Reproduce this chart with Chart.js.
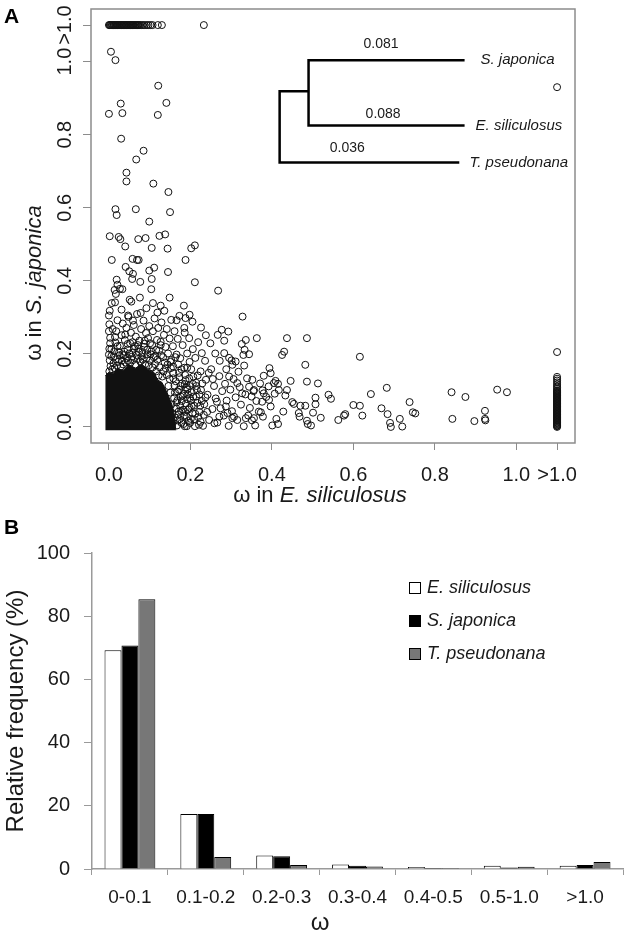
<!DOCTYPE html>
<html>
<head>
<meta charset="utf-8">
<script src="https://cdn.jsdelivr.net/npm/chart.js@4.4.1/dist/chart.umd.min.js"></script>
<style>
  html, body { margin: 0; padding: 0; background: #fff; }
  #wrap { position: relative; width: 630px; height: 936px; overflow: hidden; }
  #chartA { position: absolute; left: 0; top: 0; }
  #chartB { position: absolute; left: 0; top: 505px; }
</style>
</head>
<body>
<div id="wrap">
  <canvas id="chartA" width="630" height="505"></canvas>
  <canvas id="chartB" width="630" height="431"></canvas>
</div>
<script>
// ---------- data: panel A (omega scatter) ----------
const axisTickValues = [0, 0.2, 0.4, 0.6, 0.8, 1.0, 1.1];
const axisTickLabels = ['0.0', '0.2', '0.4', '0.6', '0.8', '1.0', '>1.0'];
const OVER_ONE = 1.1; // where ">1.0" genes are plotted

// genes with omega > 1.0 in S. japonica (top row): omega in E. siliculosus
const topRowX = [0.000, 0.002, 0.003, 0.005, 0.007, 0.009, 0.011, 0.012, 0.014, 0.016,
  0.018, 0.020, 0.021, 0.023, 0.025, 0.027, 0.029, 0.031, 0.032, 0.034,
  0.036, 0.038, 0.040, 0.042, 0.043, 0.045, 0.047, 0.049, 0.051, 0.053,
  0.054, 0.056, 0.058, 0.060, 0.062, 0.064, 0.066, 0.068, 0.070, 0.072,
  0.074, 0.076, 0.080, 0.084, 0.088, 0.093, 0.097, 0.102, 0.107, 0.120, 0.130, 0.233];

// genes with omega > 1.0 in E. siliculosus (right column): omega in S. japonica
const rightColY = [0.000, 0.002, 0.004, 0.006, 0.008, 0.010, 0.012, 0.014, 0.016, 0.018,
  0.020, 0.022, 0.024, 0.026, 0.028, 0.030, 0.032, 0.034, 0.036, 0.038,
  0.040, 0.042, 0.044, 0.046, 0.048, 0.050, 0.052, 0.054, 0.056, 0.058,
  0.060, 0.062, 0.064, 0.066, 0.068, 0.070, 0.072, 0.074, 0.076, 0.078,
  0.080, 0.082, 0.084, 0.086, 0.088, 0.090, 0.092, 0.094, 0.096, 0.098, 0.100,
  0.104, 0.108, 0.112, 0.117, 0.122, 0.127, 0.132, 0.137, 0.205, 0.930];

// saturated core of overlapping circles (upper edge, filled down to the bottom)
const coreEdge = [[-0.009, 0.14], [0.0, 0.15], [0.01, 0.145], [0.02, 0.16], [0.035, 0.155],
  [0.05, 0.17], [0.065, 0.16], [0.08, 0.172], [0.095, 0.158], [0.11, 0.15], [0.12, 0.128],
  [0.13, 0.122], [0.138, 0.105], [0.146, 0.085], [0.155, 0.06], [0.161, 0.03], [0.164, -0.009]];

// [omega E. siliculosus, omega S. japonica]
const genePoints = [
  [0.005,1.027],[0.016,1.004],[0.121,0.934],[0.029,0.885],[0.141,0.887],[0.000,0.857],[0.033,0.859],
  [0.120,0.854],[0.030,0.789],[0.085,0.756],[0.067,0.732],[0.043,0.696],[0.043,0.672],[0.109,0.666],
  [0.146,0.643],[0.016,0.596],[0.019,0.580],[0.066,0.596],[0.150,0.588],[0.099,0.562],[0.002,0.522],
  [0.024,0.520],[0.028,0.514],[0.072,0.514],[0.090,0.517],[0.124,0.523],[0.138,0.527],[0.040,0.494],
  [0.105,0.490],[0.144,0.488],[0.202,0.489],[0.211,0.497],
  [0.007,0.457],[0.058,0.460],[0.069,0.457],[0.073,0.457],[0.188,0.457],[0.041,0.438],[0.050,0.426],
  [0.059,0.419],[0.057,0.405],[0.077,0.397],[0.099,0.428],[0.111,0.436],[0.105,0.405],[0.145,0.424],
  [0.211,0.396],[0.268,0.373],[0.019,0.403],[0.021,0.389],[0.027,0.378],[0.014,0.375],[0.017,0.364],
  [0.007,0.339],[0.015,0.341],[0.033,0.377],[0.051,0.348],[0.055,0.343],[0.076,0.354],[0.104,0.377],
  [0.031,0.321],[0.047,0.305],[0.059,0.291],[0.078,0.312],[0.092,0.325],[0.108,0.339],[0.127,0.332],
  [0.149,0.354],[0.119,0.313],[0.136,0.318],[0.153,0.293],[0.173,0.304],[0.188,0.298],[0.184,0.332],
  [0.198,0.307],[0.328,0.302],[0.267,0.252],[0.277,0.266],[0.293,0.261],[0.283,0.236],[0.336,0.238],
  [0.326,0.227],[0.333,0.211],[0.344,0.199],[0.330,0.197],[0.363,0.243],[0.437,0.243],[0.486,0.243],
  [0.425,0.197],[0.430,0.206],[0.616,0.192],[0.482,0.170],[0.394,0.161],[0.397,0.147],[0.380,0.140],
  [0.352,0.129],[0.409,0.126],[0.415,0.118],[0.446,0.126],[0.486,0.124],[0.513,0.119],[0.643,0.090],
  [0.539,0.088],[0.545,0.077],[0.507,0.080],[0.507,0.062],[0.437,0.101],[0.433,0.086],[0.450,0.068],
  [0.454,0.063],[0.470,0.058],[0.482,0.058],[0.600,0.060],[0.616,0.058],[0.622,0.031],[0.563,0.019],
  [0.580,0.035],[0.577,0.031],[0.520,0.025],[0.501,0.039],[0.486,0.017],[0.496,0.004],[0.466,0.038],
  [0.468,0.028],[0.411,0.022],[0.401,0.004],[0.359,0.004],[0.368,0.042],[0.373,0.040],[0.356,0.024],
  [0.336,0.024],[0.342,0.031],[0.393,0.074],[0.397,0.056],[0.417,0.101],[0.405,0.120],[0.380,0.092],
  [0.376,0.069],[0.350,0.083],[0.356,0.101],[0.327,0.092],[0.344,0.110],[0.315,0.120],[0.295,0.138],
  [0.303,0.170],[0.295,0.189],[0.283,0.202],[0.311,0.179],[0.287,0.056],[0.291,0.038],[0.271,0.028],
  [0.259,0.010],[0.303,0.024],[0.307,0.028],[0.682,0.107],[0.669,0.051],[0.684,0.035],[0.690,0.011],
  [0.692,0.000],[0.714,0.022],[0.720,0.001],[0.738,0.068],[0.746,0.040],[0.752,0.037],[0.841,0.095],
  [0.875,0.082],[0.843,0.022],[0.897,0.016],[0.923,0.044],[0.923,0.022],[0.924,0.018],[0.953,0.102],
  [0.977,0.095],[0.488,0.008],[0.428,0.042],[0.415,0.008],[0.407,0.091],[0.377,0.100],
  // crowded zone above the core
  [0.002,0.182],[0.006,0.213],[0.003,0.244],[0.009,0.268],[0.012,0.193],[0.016,0.231],[0.018,0.262],
  [0.021,0.292],[0.025,0.204],[0.027,0.222],[0.031,0.251],[0.034,0.283],[0.036,0.196],[0.039,0.238],
  [0.043,0.271],[0.046,0.212],[0.048,0.301],[0.052,0.229],[0.054,0.258],[0.057,0.203],[0.061,0.279],
  [0.064,0.221],[0.066,0.247],[0.069,0.309],[0.073,0.214],[0.075,0.236],[0.079,0.268],[0.082,0.205],
  [0.085,0.291],[0.087,0.228],[0.091,0.257],[0.094,0.211],[0.096,0.243],[0.099,0.276],[0.102,0.199],
  [0.106,0.224],[0.108,0.262],[0.112,0.297],[0.114,0.194],[0.118,0.238],[0.121,0.271],[0.123,0.209],
  [0.127,0.233],[0.129,0.286],[0.133,0.191],[0.135,0.252],[0.139,0.219],[0.142,0.268],[0.145,0.201],
  [0.149,0.242],[0.153,0.183],[0.157,0.221],[0.161,0.262],[0.166,0.198],[0.169,0.241],[0.175,0.188],
  [0.181,0.224],[0.186,0.258],[0.192,0.201],[0.197,0.243],[0.206,0.213],[0.212,0.189],[0.219,0.232],
  [0.228,0.202],[0.236,0.181],
  [0.001,0.152],[0.004,0.166],[0.008,0.158],[0.011,0.174],[0.014,0.161],[0.017,0.185],[0.020,0.168],
  [0.023,0.178],[0.026,0.196],[0.029,0.165],[0.032,0.182],[0.035,0.171],[0.038,0.206],[0.041,0.176],
  [0.044,0.189],[0.047,0.181],[0.050,0.201],[0.053,0.176],[0.056,0.192],[0.059,0.183],[0.062,0.214],
  [0.065,0.171],[0.068,0.197],[0.071,0.186],[0.074,0.205],[0.077,0.179],[0.080,0.193],[0.083,0.184],
  [0.086,0.219],[0.089,0.172],[0.092,0.188],[0.095,0.199],[0.098,0.169],[0.101,0.182],[0.104,0.207],
  [0.107,0.163],[0.110,0.191],[0.113,0.172],[0.116,0.152],[0.119,0.184],[0.122,0.141],[0.125,0.163],
  [0.128,0.196],[0.131,0.138],[0.134,0.152],[0.137,0.176],[0.006,0.194],[0.013,0.207],[0.021,0.221],
  [0.033,0.199],[0.046,0.227],[0.058,0.232],[0.071,0.224],[0.088,0.236],[0.101,0.229],[0.116,0.211],
  [0.127,0.224],[0.003,0.229],[0.015,0.246],[0.040,0.253],[0.000,0.262],[0.001,0.281],[0.000,0.305],
  [0.002,0.318],[0.000,0.198],[0.001,0.214],
  // crowded zone right of the core
  [0.146,0.112],[0.149,0.131],[0.151,0.094],[0.153,0.061],[0.155,0.038],[0.157,0.012],[0.158,0.147],
  [0.160,0.079],[0.162,0.026],[0.164,0.125],[0.166,0.067],[0.167,0.004],[0.169,0.097],[0.171,0.033],
  [0.173,0.136],[0.175,0.058],[0.176,0.083],[0.178,0.011],[0.180,0.119],[0.182,0.047],[0.184,0.091],
  [0.186,0.002],[0.187,0.142],[0.189,0.064],[0.191,0.028],[0.193,0.103],[0.195,0.048],[0.197,0.133],
  [0.199,0.011],[0.201,0.072],[0.203,0.095],[0.205,0.037],[0.207,0.138],[0.209,0.058],[0.211,0.002],
  [0.214,0.121],[0.217,0.066],[0.219,0.027],[0.222,0.089],[0.225,0.014],[0.142,0.142],[0.139,0.161],
  [0.144,0.171],[0.151,0.178],[0.158,0.165],[0.163,0.191],[0.170,0.171],[0.178,0.158],[0.192,0.162],
  [0.198,0.178],
  [0.152,0.161],[0.158,0.133],[0.162,0.094],[0.165,0.051],[0.168,0.018],[0.172,0.148],[0.176,0.112],
  [0.179,0.071],[0.184,0.031],[0.188,0.128],[0.191,0.002],[0.194,0.089],[0.198,0.052],[0.202,0.158],
  [0.206,0.118],[0.209,0.021],[0.214,0.083],[0.218,0.141],[0.222,0.041],[0.226,0.101],[0.231,0.003],
  [0.234,0.062],[0.238,0.129],[0.242,0.088],[0.246,0.019],[0.251,0.158],[0.254,0.049],[0.258,0.112],
  [0.262,0.078],[0.266,0.012],[0.271,0.139],[0.274,0.051],[0.278,0.098],[0.161,0.113],[0.171,0.042],
  [0.189,0.108],[0.201,0.022],[0.215,0.112],[0.225,0.152],[0.241,0.041],[0.255,0.131],[0.265,0.069],
  [0.185,0.162],[0.199,0.079],[0.228,0.071],[0.245,0.148],
  [0.168,0.073],[0.172,0.102],[0.174,0.021],[0.177,0.044],[0.181,0.086],[0.183,0.008],[0.186,0.117],
  [0.188,0.041],[0.192,0.076],[0.196,0.016],[0.198,0.112],[0.203,0.057],[0.207,0.083],[0.212,0.036],
  [0.216,0.101],[0.221,0.006],[0.224,0.058],[0.229,0.119],[0.233,0.033],[0.237,0.081],
  // tail
  [0.282,0.031],[0.285,0.118],[0.289,0.072],[0.294,0.003],[0.298,0.102],[0.302,0.043],[0.306,0.131],
  [0.311,0.081],[0.315,0.019],[0.321,0.109],[0.324,0.061],[0.331,0.002],[0.335,0.089],[0.339,0.133],
  [0.346,0.052],[0.351,0.018],[0.355,0.098],[0.362,0.071],[0.371,0.119],[0.378,0.028],[0.386,0.082],
  [0.392,0.111],[0.288,0.158],[0.301,0.182],[0.318,0.151],[0.332,0.168],[0.261,0.201],[0.249,0.229],
  [0.238,0.251],[0.226,0.272],[0.205,0.288],[0.185,0.271],[0.166,0.292],[0.272,0.181]
];

// ---------- data: panel B (relative frequency) ----------
const omegaBins = ['0-0.1', '0.1-0.2', '0.2-0.3', '0.3-0.4', '0.4-0.5', '0.5-1.0', '>1.0'];
const esFreq = [69.2, 17.4, 4.3, 1.4, 0.6, 1.0, 1.0];
const sjFreq = [70.7, 17.4, 4.0, 1.0, 0.3, 0.5, 1.3];
const tpFreq = [85.4, 3.8, 1.3, 0.8, 0.3, 0.7, 2.2];
const freqTicks = [0, 20, 40, 60, 80, 100];

// tree inset (panel A), in plot units
const treeUpper = [[0.873, 1.004], [0.490, 1.004], [0.490, 0.825], [0.873, 0.825]];
const treeLower = [[0.490, 0.919], [0.419, 0.919], [0.419, 0.724], [0.860, 0.724]];
const branchLengths = ['0.081', '0.088', '0.036'];
const treeTaxa = ['S. japonica', 'E. siliculosus', 'T. pseudonana'];

// ==================================================
const FONT = '"Liberation Sans", Arial, Helvetica, sans-serif';
const INK = '#1a1a1a';
const FRAME = '#8c8c8c';
Chart.defaults.font.family = FONT;
Chart.defaults.color = INK;

const toXY = pts => pts.map(p => ({ x: p[0], y: p[1] }));

function drawMixed(ctx, parts, cx, cy, size, angle) {
  ctx.save();
  ctx.translate(cx, cy);
  if (angle) ctx.rotate(angle);
  const fonts = parts.map(p => (p.italic ? 'italic ' : '') + size + 'px ' + FONT);
  let total = 0;
  parts.forEach((p, i) => { ctx.font = fonts[i]; total += ctx.measureText(p.text).width; });
  let x = -total / 2;
  ctx.textAlign = 'left';
  ctx.textBaseline = 'middle';
  ctx.fillStyle = INK;
  parts.forEach((p, i) => {
    ctx.font = fonts[i];
    ctx.fillText(p.text, x, 0);
    x += ctx.measureText(p.text).width;
  });
  ctx.restore();
}

// text anchors for the tree inset (plot units)
const branchLabelAt = [[0.668, 1.047], [0.673, 0.855], [0.585, 0.762]];
const taxonLabelAt = [[0.912, 1.004], [0.900, 0.825], [0.885, 0.724]];

const panelAExtras = {
  id: 'panelAExtras',
  afterDraw(chart) {
    const { ctx, chartArea: a, scales: { x, y } } = chart;
    ctx.save();
    // plot frame
    ctx.strokeStyle = FRAME;
    ctx.lineWidth = 1.5;
    ctx.strokeRect(a.left, a.top, a.right - a.left, a.bottom - a.top);

    // rotated y tick labels (R style)
    ctx.fillStyle = INK;
    ctx.font = '20px ' + FONT;
    ctx.textAlign = 'center';
    ctx.textBaseline = 'middle';
    axisTickValues.forEach((v, i) => {
      ctx.save();
      ctx.translate(65, y.getPixelForValue(v));
      ctx.rotate(-Math.PI / 2);
      ctx.fillText(axisTickLabels[i], 0, 0);
      ctx.restore();
    });

    // tree labels
    ctx.font = '14px ' + FONT;
    ctx.textAlign = 'center';
    ctx.textBaseline = 'middle';
    branchLengths.forEach((t, i) => {
      ctx.fillText(t, x.getPixelForValue(branchLabelAt[i][0]), y.getPixelForValue(branchLabelAt[i][1]));
    });
    ctx.font = 'italic 15px ' + FONT;
    ctx.textAlign = 'left';
    treeTaxa.forEach((t, i) => {
      ctx.fillText(t, x.getPixelForValue(taxonLabelAt[i][0]), y.getPixelForValue(taxonLabelAt[i][1]));
    });

    // panel letter
    ctx.font = 'bold 21px ' + FONT;
    ctx.textAlign = 'left';
    ctx.textBaseline = 'top';
    ctx.fillStyle = '#000';
    ctx.fillText('A', 4, 7);
    ctx.restore();

    // axis titles
    drawMixed(ctx, [{ text: 'ω in ' }, { text: 'E. siliculosus', italic: true }], 320, 496, 22, 0);
    drawMixed(ctx, [{ text: 'ω in ' }, { text: 'S. japonica', italic: true }], 35, 283, 22, -Math.PI / 2);
  }
};

new Chart(document.getElementById('chartA'), {
  type: 'scatter',
  data: {
    datasets: [
      {
        label: 'genes',
        data: toXY(genePoints)
          .concat(topRowX.map(v => ({ x: v, y: OVER_ONE })))
          .concat(rightColY.map(v => ({ x: OVER_ONE, y: v }))),
        borderColor: '#111',
        backgroundColor: 'rgba(0,0,0,0)',
        borderWidth: 1,
        pointRadius: 3.5
      },
      {
        label: 'core',
        data: toXY(coreEdge),
        showLine: true,
        fill: { value: -0.009 },
        borderColor: '#111',
        backgroundColor: '#111',
        borderWidth: 1,
        tension: 0,
        pointRadius: 0
      },
      {
        label: 'tree1',
        data: toXY(treeUpper),
        showLine: true,
        borderColor: '#000',
        borderWidth: 2.5,
        pointRadius: 0,
        fill: false
      },
      {
        label: 'tree2',
        data: toXY(treeLower),
        showLine: true,
        borderColor: '#000',
        borderWidth: 2.5,
        pointRadius: 0,
        fill: false
      }
    ]
  },
  options: {
    responsive: false,
    animation: false,
    layout: { padding: { top: 9, right: 55, left: 0, bottom: 0 } },
    plugins: { legend: { display: false }, tooltip: { enabled: false } },
    scales: {
      x: {
        type: 'linear',
        min: -0.044,
        max: 1.144,
        afterBuildTicks: s => { s.ticks = axisTickValues.map(v => ({ value: v })); },
        afterFit: s => { s.height = 62; },
        ticks: {
          font: { size: 20 },
          color: INK,
          padding: 13,
          maxRotation: 0,
          autoSkip: false,
          callback: v => axisTickLabels[axisTickValues.indexOf(v)]
        },
        grid: { drawOnChartArea: false, tickLength: 7, color: FRAME },
        border: { display: false }
      },
      y: {
        type: 'linear',
        min: -0.044,
        max: 1.144,
        afterBuildTicks: s => { s.ticks = axisTickValues.map(v => ({ value: v })); },
        afterFit: s => { s.width = 91; },
        ticks: { display: false },
        grid: { drawOnChartArea: false, tickLength: 8, color: FRAME },
        border: { display: false }
      }
    }
  },
  plugins: [panelAExtras]
});

// ==================================================
const panelBExtras = {
  id: 'panelBExtras',
  afterDraw(chart) {
    const { ctx } = chart;
    ctx.save();
    ctx.fillStyle = '#000';
    ctx.font = 'bold 21px ' + FONT;
    ctx.textAlign = 'left';
    ctx.textBaseline = 'top';
    ctx.fillText('B', 4, 13);

    // legend
    const rowY = [83, 116, 149];
    chart.data.datasets.forEach((ds, i) => {
      ctx.fillStyle = ds.backgroundColor;
      ctx.fillRect(409.5, rowY[i] - 5.5, 11, 11);
      ctx.strokeStyle = '#000';
      ctx.lineWidth = 1;
      ctx.strokeRect(409.5, rowY[i] - 5.5, 11, 11);
      ctx.fillStyle = INK;
      ctx.font = 'italic 18px ' + FONT;
      ctx.textBaseline = 'middle';
      ctx.fillText(ds.label, 427, rowY[i]);
    });
    ctx.restore();

    drawMixed(ctx, [{ text: 'ω' }], 320, 418, 24, 0);
  }
};

new Chart(document.getElementById('chartB'), {
  type: 'bar',
  data: {
    labels: omegaBins,
    datasets: [
      { label: 'E. siliculosus', data: esFreq, backgroundColor: '#ffffff', borderColor: '#000', borderWidth: 1 },
      { label: 'S. japonica', data: sjFreq, backgroundColor: '#000000', borderColor: '#000', borderWidth: 1 },
      { label: 'T. pseudonana', data: tpFreq, backgroundColor: '#777777', borderColor: '#000', borderWidth: 1 }
    ]
  },
  options: {
    responsive: false,
    animation: false,
    layout: { padding: { top: 48, right: 7, left: 0, bottom: 0 } },
    datasets: { bar: { categoryPercentage: 0.67, barPercentage: 1 } },
    plugins: { legend: { display: false }, tooltip: { enabled: false } },
    scales: {
      x: {
        afterFit: s => { s.height = 67; },
        ticks: { font: { size: 19 }, color: INK, padding: 11, maxRotation: 0, autoSkip: false },
        grid: { drawOnChartArea: false, tickLength: 6, color: '#9a9a9a', offset: true },
        border: { display: true, color: '#9a9a9a', width: 1.5 }
      },
      y: {
        min: 0,
        max: 100,
        afterBuildTicks: s => { s.ticks = freqTicks.map(v => ({ value: v })); },
        afterFit: s => { s.width = 92; },
        ticks: { font: { size: 20 }, color: INK, padding: 14 },
        grid: { drawOnChartArea: false, tickLength: 8, color: '#9a9a9a' },
        border: { display: true, color: '#9a9a9a', width: 1.5 },
        title: { display: true, text: 'Relative frequency (%)', font: { size: 24 }, color: INK, padding: { top: 2, bottom: 0 } }
      }
    }
  },
  plugins: [panelBExtras]
});
</script>
</body>
</html>
